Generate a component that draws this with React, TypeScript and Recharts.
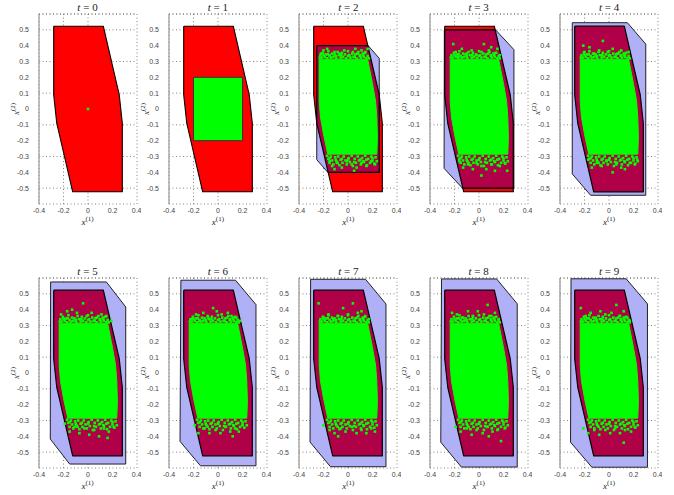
import React from "react";
import { ScatterChart, Scatter, XAxis, YAxis, CartesianGrid, ReferenceLine } from "recharts";

type Pt = { x: number; y: number };
const pts = (a: number[][]): Pt[] => a.map(([x, y]) => ({ x, y }));

const steps = [0, 1, 2, 3, 4, 5, 6, 7, 8, 9];
const xTicks = [-0.4, -0.2, 0, 0.2, 0.4];
const yTicks = [-0.5, -0.4, -0.3, -0.2, -0.1, 0, 0.1, 0.2, 0.3, 0.4, 0.5];

// constraint set (red)
const redSet = [
  [-0.28, 0.523], [0.125, 0.523], [0.255, 0.09], [0.28, -0.09],
  [0.28, -0.523], [-0.125, -0.523], [-0.255, -0.09], [-0.28, 0.09],
];

// initial box at t = 1
const initBox = [[-0.2, 0.2], [0.2, 0.2], [0.2, -0.2], [-0.2, -0.2]];
const origin = [[0, 0]];

// outer (blue) sets per step
const blue2 = [[-0.255, 0.4], [0.165, 0.4], [0.255, 0.32], [0.255, -0.4], [-0.165, -0.4], [-0.255, -0.32]];
const blue3 = [[-0.283, 0.5], [0.135, 0.5], [0.285, 0.375], [0.285, -0.5], [-0.135, -0.5], [-0.285, -0.375]];
const blue4 = [[-0.3, 0.545], [0.15, 0.545], [0.3, 0.41], [0.3, -0.545], [-0.15, -0.545], [-0.3, -0.41]];
const blue5 = [[-0.305, 0.575], [0.15, 0.575], [0.308, 0.417], [0.308, -0.575], [-0.15, -0.575], [-0.308, -0.417]];
const blue6 = [[-0.303, 0.586], [0.143, 0.586], [0.31, 0.432], [0.31, -0.586], [-0.143, -0.586], [-0.31, -0.432]];
const blue7 = [[-0.305, 0.592], [0.143, 0.592], [0.31, 0.436], [0.31, -0.592], [-0.143, -0.592], [-0.31, -0.436]];
const blue8 = [[-0.306, 0.594], [0.144, 0.594], [0.312, 0.437], [0.312, -0.594], [-0.144, -0.594], [-0.312, -0.437]];
const blue9 = [[-0.31, 0.595], [0.14, 0.595], [0.314, 0.437], [0.314, -0.595], [-0.14, -0.595], [-0.314, -0.437]];
const blueSets = [null, null, blue2, blue3, blue4, blue5, blue6, blue7, blue8, blue9];

// dense part of the sample cloud
const cloudCore = [
  [-0.235, 0.315], [0.16, 0.315], [0.2, 0.16], [0.225, 0.05], [0.235, -0.05], [0.24, -0.18],
  [0.235, -0.285], [-0.165, -0.285], [-0.2, -0.16], [-0.225, -0.05], [-0.235, 0.05],
];

// ragged upper and lower edge of the cloud
const cloudTop = [
  [-0.225, 0.34], [-0.215, 0.325], [-0.205, 0.355], [-0.19, 0.33], [-0.18, 0.345], [-0.17, 0.32], [-0.16, 0.365], [-0.15, 0.335],
  [-0.14, 0.325], [-0.13, 0.35], [-0.12, 0.33], [-0.11, 0.345], [-0.095, 0.32], [-0.085, 0.36], [-0.075, 0.34], [-0.06, 0.325],
  [-0.05, 0.355], [-0.04, 0.33], [-0.025, 0.345], [-0.015, 0.32], [0.0, 0.365], [0.01, 0.34], [0.02, 0.325], [0.035, 0.35],
  [0.045, 0.33], [0.06, 0.345], [0.07, 0.32], [0.085, 0.36], [0.095, 0.335], [0.105, 0.325], [0.12, 0.35], [0.13, 0.33],
  [0.14, 0.355], [0.15, 0.32], [0.16, 0.335], [0.17, 0.32], [-0.2, 0.34], [-0.1, 0.335], [0.0, 0.335], [0.1, 0.34],
  [-0.165, 0.345], [-0.055, 0.34], [0.055, 0.33], [0.125, 0.34], [-0.23, 0.325], [0.075, 0.35],
];
const cloudBottom = [
  [-0.17, -0.295], [-0.16, -0.315], [-0.15, -0.34], [-0.14, -0.3], [-0.13, -0.325], [-0.12, -0.35], [-0.105, -0.305], [-0.095, -0.33],
  [-0.08, -0.3], [-0.07, -0.355], [-0.06, -0.32], [-0.045, -0.34], [-0.035, -0.3], [-0.02, -0.325], [-0.01, -0.35], [0.005, -0.31],
  [0.015, -0.335], [0.03, -0.295], [0.04, -0.36], [0.055, -0.315], [0.065, -0.34], [0.08, -0.3], [0.09, -0.325], [0.105, -0.35],
  [0.115, -0.31], [0.13, -0.335], [0.14, -0.295], [0.155, -0.355], [0.165, -0.315], [0.18, -0.34], [0.19, -0.3], [0.2, -0.325],
  [0.215, -0.345], [0.225, -0.305], [0.235, -0.33], [-0.1, -0.32], [0.0, -0.32], [0.1, -0.32], [0.2, -0.31],
  [-0.15, -0.31], [-0.05, -0.315], [0.05, -0.335], [0.15, -0.32], [0.125, -0.33], [-0.085, -0.34],
];

// loose samples at the top and bottom of each cloud
const fringe2 = [[-0.22, 0.35], [-0.2, 0.37], [-0.15, 0.34], [-0.11, 0.36], [-0.07, 0.35], [-0.03, 0.37], [0.01, 0.34], [0.04, 0.36], [0.08, 0.35], [0.11, 0.37], [0.14, 0.36], [0.16, 0.38], [-0.17, 0.38], [0.06, 0.38],
  [-0.15, -0.33], [-0.13, -0.36], [-0.09, -0.34], [-0.05, -0.37], [-0.01, -0.33], [0.03, -0.35], [0.07, -0.37], [0.11, -0.34], [0.15, -0.36], [0.19, -0.33], [0.22, -0.35], [-0.11, -0.38], [0.05, -0.39]];
const fringe3 = [[-0.21, 0.41], [-0.19, 0.36], [-0.14, 0.38], [-0.1, 0.35], [-0.06, 0.37], [-0.02, 0.34], [0.02, 0.36], [0.04, 0.41], [0.08, 0.37], [0.12, 0.35], [0.15, 0.38], [0.17, 0.34], [-0.17, 0.33], [0.1, 0.39],
  [-0.16, -0.33], [-0.13, -0.37], [-0.09, -0.35], [-0.05, -0.38], [-0.02, -0.34], [0.02, -0.36], [0.02, -0.42], [0.06, -0.38], [0.1, -0.35], [0.13, -0.39], [0.17, -0.36], [0.21, -0.34], [0.23, -0.39]];
const fringe4 = [[-0.21, 0.4], [-0.16, 0.39], [-0.2, 0.36], [-0.12, 0.35], [-0.08, 0.37], [-0.05, 0.43], [-0.01, 0.36], [0.03, 0.38], [0.07, 0.35], [0.1, 0.37], [0.13, 0.34], [0.16, 0.36], [0.0, 0.34],
  [-0.17, -0.32], [-0.14, -0.37], [-0.1, -0.34], [-0.06, -0.36], [-0.02, -0.33], [0.03, -0.4], [0.06, -0.35], [0.1, -0.37], [0.13, -0.38], [0.17, -0.34], [0.21, -0.35], [0.23, -0.32]];
const fringe5 = [[-0.22, 0.37], [-0.17, 0.39], [-0.13, 0.4], [-0.09, 0.38], [-0.04, 0.44], [-0.01, 0.36], [0.03, 0.38], [0.07, 0.35], [0.11, 0.37], [0.15, 0.36], [0.19, 0.33], [-0.19, 0.34],
  [-0.19, -0.32], [-0.15, -0.37], [-0.11, -0.34], [-0.07, -0.38], [-0.03, -0.35], [0.01, -0.39], [0.05, -0.36], [0.09, -0.4], [0.13, -0.35], [0.17, -0.37], [0.21, -0.34], [0.16, -0.41]];
const fringe6 = [[-0.21, 0.34], [-0.18, 0.37], [-0.12, 0.38], [-0.08, 0.35], [-0.04, 0.41], [-0.01, 0.39], [0.03, 0.37], [0.08, 0.38], [0.11, 0.36], [0.15, 0.35], [0.18, 0.33], [-0.15, 0.33],
  [-0.19, -0.33], [-0.16, -0.38], [-0.11, -0.35], [-0.07, -0.38], [-0.02, -0.36], [0.02, -0.38], [0.06, -0.34], [0.1, -0.37], [0.14, -0.35], [0.17, -0.37], [0.2, -0.33], [0.12, -0.4]];
const fringe7 = [[-0.24, 0.44], [-0.2, 0.35], [-0.16, 0.37], [-0.12, 0.34], [-0.04, 0.41], [0.0, 0.37], [0.04, 0.44], [0.08, 0.38], [0.11, 0.39], [0.14, 0.36], [0.17, 0.34], [-0.08, 0.36],
  [-0.2, -0.33], [-0.15, -0.36], [-0.11, -0.38], [-0.06, -0.35], [-0.02, -0.37], [0.03, -0.34], [0.07, -0.38], [0.11, -0.36], [0.15, -0.38], [0.19, -0.35], [0.22, -0.37], [-0.08, -0.4]];
const fringe8 = [[-0.22, 0.38], [-0.18, 0.37], [-0.14, 0.35], [-0.09, 0.39], [-0.05, 0.36], [-0.01, 0.39], [0.04, 0.37], [0.07, 0.43], [0.1, 0.36], [0.13, 0.38], [0.16, 0.34], [-0.12, 0.33],
  [-0.19, -0.34], [-0.15, -0.37], [-0.1, -0.35], [-0.06, -0.39], [-0.02, -0.36], [0.03, -0.38], [0.07, -0.34], [0.11, -0.37], [0.15, -0.36], [0.18, -0.43], [0.21, -0.35], [0.08, -0.4]];
const fringe9 = [[-0.23, 0.41], [-0.19, 0.36], [-0.15, 0.38], [-0.11, 0.35], [-0.07, 0.39], [-0.03, 0.37], [0.02, 0.38], [0.06, 0.43], [0.09, 0.36], [0.12, 0.39], [0.15, 0.35], [0.17, 0.33],
  [-0.21, -0.35], [-0.17, -0.38], [-0.12, -0.36], [-0.08, -0.39], [-0.03, -0.36], [0.01, -0.38], [0.05, -0.35], [0.09, -0.38], [0.13, -0.36], [0.12, -0.44], [0.18, -0.37], [0.21, -0.34]];
const fringes = [null, null, fringe2, fringe3, fringe4, fringe5, fringe6, fringe7, fringe8, fringe9];

const RED = "#ff0000";
const BLUE = "#b0b0f7";
const CRIMSON = "#b00048";
const GREEN = "#00ff00";

// Sutherland-Hodgman: subject clipped by a convex polygon
function clip(subject: number[][], win: number[][]): number[][] {
  let area = 0;
  for (let i = 0; i < win.length; i++) {
    const [x1, y1] = win[i];
    const [x2, y2] = win[(i + 1) % win.length];
    area += x1 * y2 - x2 * y1;
  }
  const sgn = area > 0 ? 1 : -1;
  let out = subject;
  for (let i = 0; i < win.length; i++) {
    const a = win[i];
    const b = win[(i + 1) % win.length];
    const side = (p: number[]) => sgn * ((b[0] - a[0]) * (p[1] - a[1]) - (b[1] - a[1]) * (p[0] - a[0]));
    const cross = (p: number[], q: number[]) => {
      const sp = side(p), sq = side(q);
      const t = sp / (sp - sq);
      return [p[0] + t * (q[0] - p[0]), p[1] + t * (q[1] - p[1])];
    };
    const input = out;
    out = [];
    for (let j = 0; j < input.length; j++) {
      const cur = input[j];
      const prev = input[(j + input.length - 1) % input.length];
      if (side(cur) >= 0) {
        if (side(prev) < 0) out.push(cross(prev, cur));
        out.push(cur);
      } else if (side(prev) >= 0) {
        out.push(cross(prev, cur));
      }
    }
  }
  return out;
}

const closed = (a: number[][]) => pts([...a, a[0]]);
const noDot = () => <g />;
const squareDot = (p: any) => (
  <rect x={p.cx - 1.3} y={p.cy - 1.3} width={2.6} height={2.6} fill={GREEN} />
);

const tickStyle = { fontSize: 7, fill: "#444", fontFamily: "Liberation Sans, Arial, sans-serif" };
const serif = "'Liberation Serif', 'DejaVu Serif', serif";
const supStyle = { fontSize: 7, position: "relative" as const, top: -4 };

function Panel({ t }: { t: number }) {
  const blue = blueSets[t];
  const fringe = fringes[t];
  const polyLine = (fill: string, stroke: string, w = 1) => ({ fill, stroke, strokeWidth: w, strokeLinejoin: "round" as const });
  return (
    <div style={{ position: "relative", width: 132, height: 240 }}>
      <ScatterChart width={132} height={240} margin={{ top: 14, right: 4, left: 0, bottom: 0 }}>
        <CartesianGrid stroke="#666" strokeDasharray="1 2.5" strokeWidth={0.8} />
        <ReferenceLine y={0.6} stroke="#666" strokeDasharray="1 2.5" strokeWidth={0.8} />
        <XAxis
          type="number" dataKey="x" domain={[-0.4, 0.4]} ticks={xTicks} allowDataOverflow
          height={36} tickLine={false} axisLine={false} tickSize={2} tickMargin={2}
          tick={tickStyle} tickFormatter={(v: number) => String(v)}
        />
        <YAxis
          type="number" dataKey="y" domain={[-0.6, 0.6]} ticks={yTicks} allowDataOverflow
          width={30} tickLine={false} axisLine={{ stroke: "#999", strokeWidth: 1.2 }}
          tickSize={8} tickMargin={2} tick={tickStyle} tickFormatter={(v: number) => String(v)}
        />
        <Scatter data={closed(redSet)} line={polyLine(RED, "#000", 1.1)} lineJointType="linear" shape={noDot} isAnimationActive={false} />
        {blue && (
          <Scatter data={closed(blue)} line={polyLine(BLUE, "#222", 1)} lineJointType="linear" shape={noDot} isAnimationActive={false} />
        )}
        {blue && (
          <Scatter data={closed(clip(redSet, blue))} line={polyLine(CRIMSON, "#000", 1.2)} lineJointType="linear" shape={noDot} isAnimationActive={false} />
        )}
        {t === 0 && <Scatter data={pts(origin)} shape={squareDot} isAnimationActive={false} />}
        {t === 1 && (
          <Scatter data={closed(initBox)} line={polyLine(GREEN, "#333", 1)} lineJointType="linear" shape={noDot} isAnimationActive={false} />
        )}
        {t >= 2 && (
          <Scatter data={closed(cloudCore)} line={polyLine(GREEN, GREEN, 1)} lineJointType="linear" shape={noDot} isAnimationActive={false} />
        )}
        {t >= 2 && <Scatter data={pts(cloudTop)} shape={squareDot} isAnimationActive={false} />}
        {t >= 2 && <Scatter data={pts(cloudBottom)} shape={squareDot} isAnimationActive={false} />}
        {fringe && <Scatter data={pts(fringe)} shape={squareDot} isAnimationActive={false} />}
      </ScatterChart>
      <div style={{ position: "absolute", left: 30, top: 0, width: 98, height: 14, lineHeight: "14px", textAlign: "center", fontFamily: serif, fontSize: 11, color: "#222" }}>
        <i>t</i> = {t}
      </div>
      <div style={{ position: "absolute", left: 30, top: 215, width: 98, height: 14, lineHeight: "14px", textAlign: "center", fontFamily: serif, fontSize: 9, color: "#222", whiteSpace: "nowrap" }}>
        <i>x</i><span style={supStyle}>(1)</span>
      </div>
      <div style={{ position: "absolute", left: 7, top: 109, width: 0, height: 0 }}>
        <div style={{ position: "absolute", left: -20, top: -7, width: 40, height: 14, lineHeight: "14px", textAlign: "center", transform: "rotate(-90deg)", fontFamily: serif, fontSize: 9, color: "#222", whiteSpace: "nowrap" }}>
          <i>x</i><span style={supStyle}>(2)</span>
        </div>
      </div>
    </div>
  );
}

export default function App() {
  return (
    <div style={{ position: "fixed", left: 0, top: 0, width: 674, height: 495, background: "#fff" }}>
      {steps.map((t) => (
        <div key={t} style={{ position: "absolute", left: 8.5 + 130.4 * (t % 5), top: t < 5 ? 0 : 264 }}>
          <Panel t={t} />
        </div>
      ))}
    </div>
  );
}
